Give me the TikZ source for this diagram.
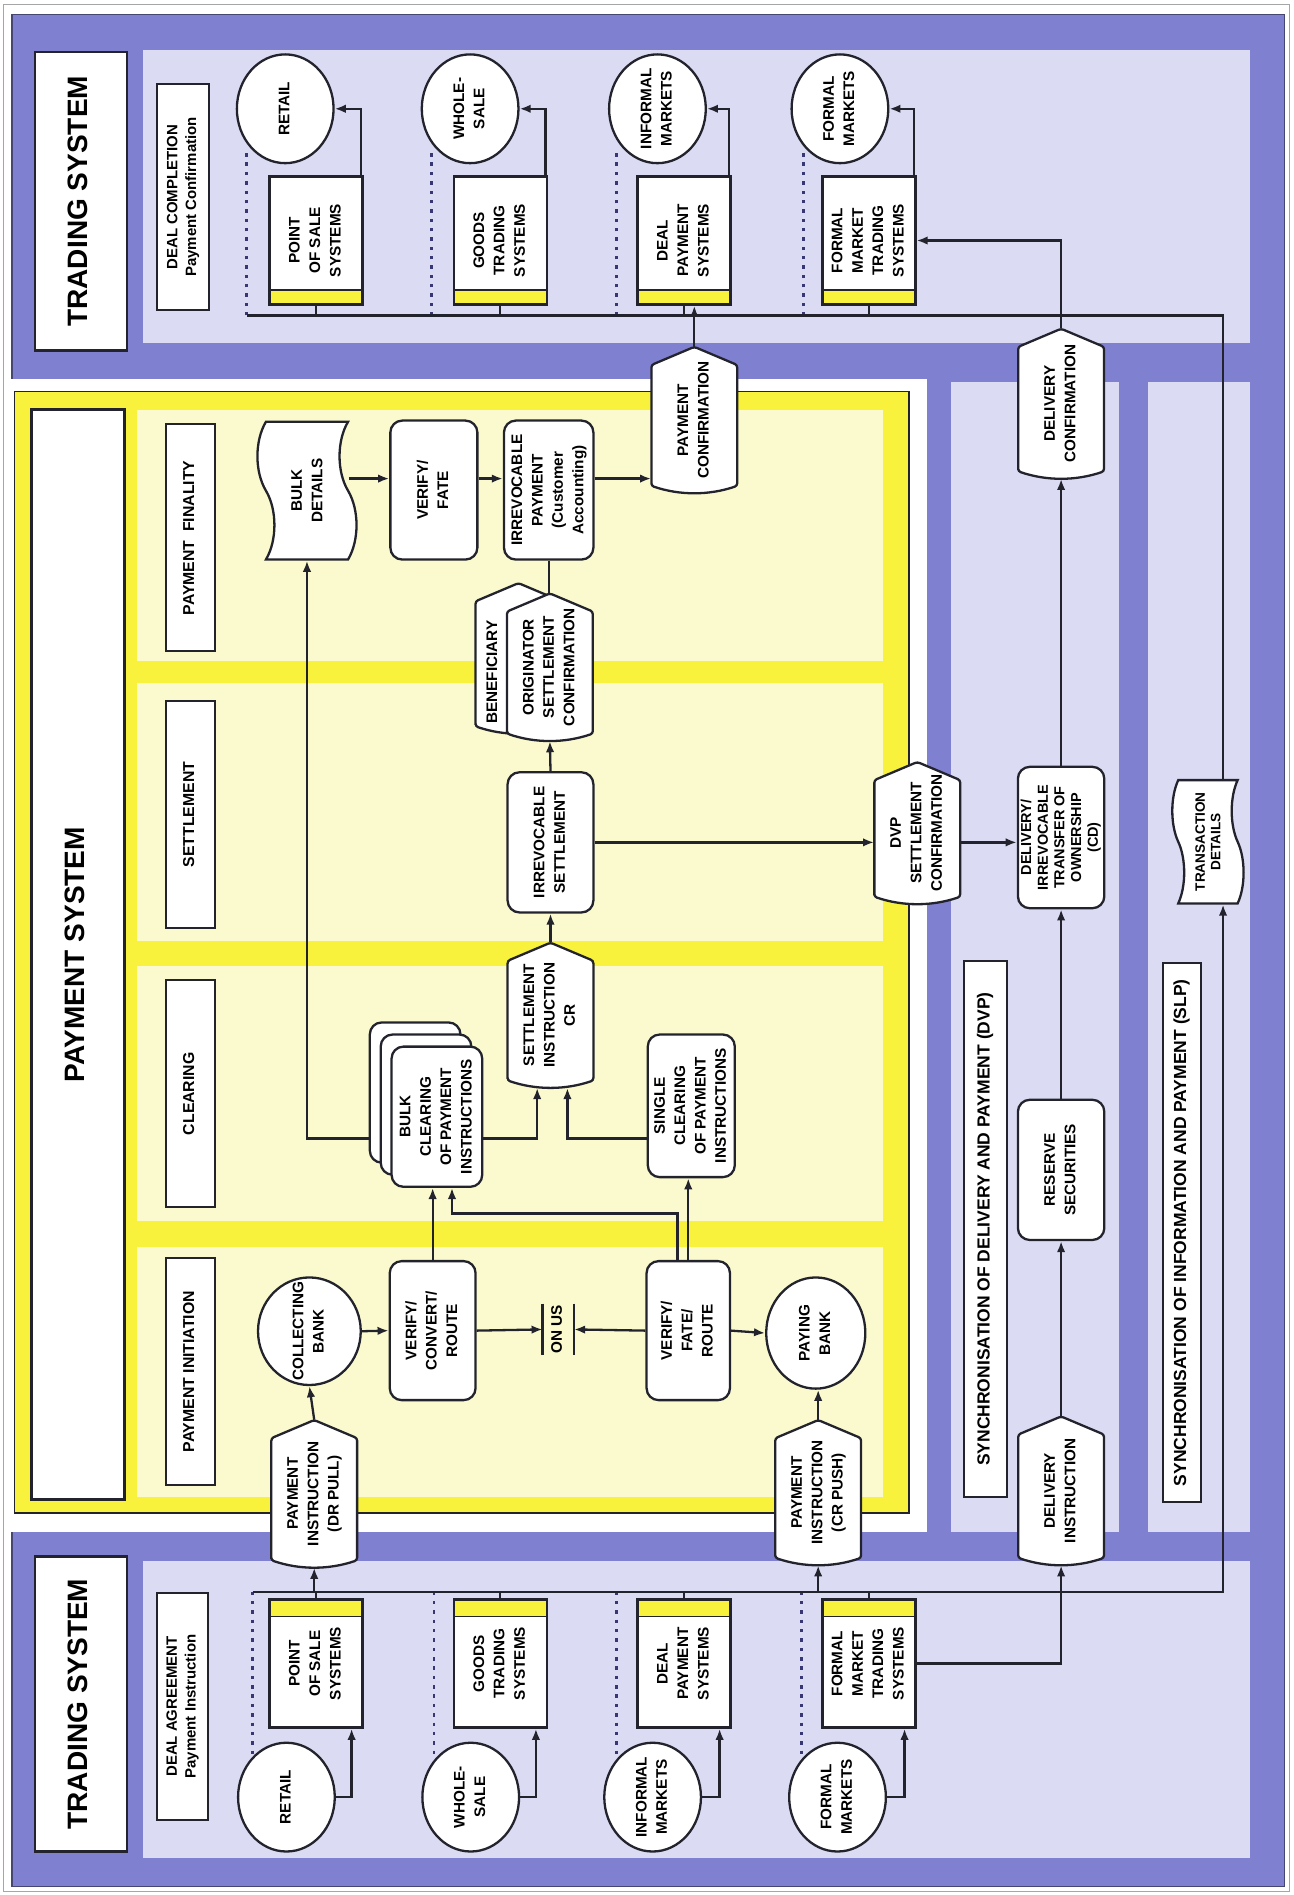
\documentclass[tikz,border=0pt]{standalone}
\usepackage{fontspec}
\setmainfont{Liberation Sans}
\usepackage{graphicx}
\usetikzlibrary{arrows.meta, positioning, shapes.geometric, shapes.symbols}

\definecolor{ink}{RGB}{35,35,45}
\definecolor{pdark}{RGB}{128,128,208}
\definecolor{plight}{RGB}{219,219,243}
\definecolor{ybright}{RGB}{248,242,60}
\definecolor{ylight}{RGB}{250,250,206}
\definecolor{dotblue}{RGB}{55,55,115}

\newcommand{\dpx}{0.025cm}
\newcommand{\vt}[1]{\rotatebox{90}{\begin{tabular}{@{}c@{}}#1\end{tabular}}}
% tag shape: pointed top, curved bottom
\newcommand{\tagnode}[5]{%
  \filldraw[tagline] ({#2-35.5},{#4-6}) -- ({#2-35.5},{#3+15}) -- (#2,#3)
    -- ({#2+35.5},{#3+15}) -- ({#2+35.5},{#4-6})
    .. controls ({#2+12},{#4+2}) and ({#2-12},{#4+2}) .. cycle;
  \node[tagbox, minimum height={(#4-#3)*\dpx}] (#1) at (#2,{(#3+#4)/2}) {\vt{#5}};
}

\tikzset{
  wh/.style 2 args={minimum width=#1*\dpx, minimum height=#2*\dpx},
  every node/.style={font=\bfseries\fontsize{9}{12}\selectfont, inner sep=0pt},
  ttl/.style={draw=ink, fill=white, line width=1.6pt, font=\bfseries\fontsize{16.5}{18}\selectfont},
  phase/.style={draw=ink, fill=white, line width=1.1pt, wh={41}{188}, font=\bfseries\fontsize{9.3}{11}\selectfont},
  proc/.style={draw=ink, fill=white, line width=1.35pt, rounded corners=7pt},
  sysbox/.style={draw=ink, fill=white, line width=1.35pt, wh={77}{106}},
  bandB/.style={path picture={
    \fill[ybright] (path picture bounding box.south west) rectangle ([yshift=12*\dpx]path picture bounding box.south east);
    \draw[ink, line width=0.7pt] ([yshift=12*\dpx]path picture bounding box.south west) -- ([yshift=12*\dpx]path picture bounding box.south east);}},
  bandT/.style={path picture={
    \fill[ybright] (path picture bounding box.north west) rectangle ([yshift=-14*\dpx]path picture bounding box.north east);
    \draw[ink, line width=0.7pt] ([yshift=-14*\dpx]path picture bounding box.north west) -- ([yshift=-14*\dpx]path picture bounding box.north east);}},
  oval/.style={ellipse, draw=ink, fill=white, line width=1.35pt, inner sep=-12pt, wh={80}{90}},
  doc/.style={tape, draw=ink, fill=white, line width=1.35pt, rotate=90, align=center},
  tagline/.style={draw=ink, fill=white, line width=1.35pt, rounded corners=1.5pt},
  tagbox/.style={minimum width=71*\dpx},
  sync/.style={draw=ink, fill=white, line width=1.1pt, font=\bfseries\fontsize{10.3}{12}\selectfont},
  flow/.style={draw=ink, line width=1.35pt, -{Latex[length=6.5pt,width=5pt]}},
  link/.style={draw=ink, line width=1.35pt},
  sep/.style={draw=dotblue, line width=1.5pt, dash pattern=on 2pt off 3.5pt},
}

\begin{document}
\begin{tikzpicture}[x=\dpx, y=-\dpx]
\useasboundingbox (0,0) rectangle (1070,1568);

% panels
\draw[black!35, line width=0.6pt] (3,4) rectangle (1067,1565);
\filldraw[fill=pdark, draw=pdark!55!black, line width=0.8pt] (10,12) rectangle (1063,1561);
\fill[plight] (118,41) rectangle (1034,284);
\fill[plight] (118,1292) rectangle (1034,1537);
\fill[plight] (787,316) rectangle (926,1268);
\fill[plight] (950,316) rectangle (1034,1268);
\fill[white] (4,314) rectangle (767,1268);
\filldraw[fill=ybright, draw=ink, line width=0.8pt] (12,324) rectangle (752,1252);
\foreach \a/\b in {339/547, 565/779, 799/1010, 1032/1239}
  \fill[ylight] (113,\a) rectangle (731,\b);

% trading system (completion)
\node[ttl, wh={76}{247}] (tsTop) at (67,166.5) {\vt{TRADING SYSTEM}};
\node[phase, wh={43}{187.5}, font=\bfseries\fontsize{8.8}{11}\selectfont] (dealTop) at (151.5,163) {\vt{DEAL COMPLETION\\Payment Confirmation}};
\node[oval] (retailT) at (236,90) {\vt{RETAIL}};
\node[oval] (wholeT) at (389,90) {\vt{WHOLE-\\SALE}};
\node[oval] (informT) at (544,90) {\vt{INFORMAL\\MARKETS}};
\node[oval] (formT) at (695,90) {\vt{FORMAL\\MARKETS}};
\node[sysbox, bandB] (posT) at (261.5,199) {\vt{POINT\\OF SALE\\SYSTEMS}};
\node[sysbox, bandB] (goodsT) at (414,199) {\vt{GOODS\\TRADING\\SYSTEMS}};
\node[sysbox, bandB] (dpsT) at (566,199) {\vt{DEAL\\PAYMENT\\SYSTEMS}};
\node[sysbox, bandB] (fmtsT) at (719,199) {\vt{FORMAL\\MARKET\\TRADING\\SYSTEMS}};

% trading system (agreement)
\node[ttl, wh={76}{244}] (tsBot) at (67,1410) {\vt{TRADING SYSTEM}};
\node[phase, wh={42}{188}, font=\bfseries\fontsize{8.8}{11}\selectfont] (dealBot) at (151,1412) {\vt{DEAL AGREEMENT\\Payment Instruction}};
\node[oval] (retailB) at (237,1487) {\vt{RETAIL}};
\node[oval] (wholeB) at (389.5,1487) {\vt{WHOLE-\\SALE}};
\node[oval] (informB) at (540,1487) {\vt{INFORMAL\\MARKETS}};
\node[oval] (formB) at (693,1487) {\vt{FORMAL\\MARKETS}};
\node[sysbox, bandT] (posB) at (261.5,1376.5) {\vt{POINT\\OF SALE\\SYSTEMS}};
\node[sysbox, bandT] (goodsB) at (414,1376.5) {\vt{GOODS\\TRADING\\SYSTEMS}};
\node[sysbox, bandT] (dpsB) at (566,1376.5) {\vt{DEAL\\PAYMENT\\SYSTEMS}};
\node[sysbox, bandT] (fmtsB) at (719,1376.5) {\vt{FORMAL\\MARKET\\TRADING\\SYSTEMS}};

% payment system
\node[ttl, wh={77}{902}] (tsPay) at (64.5,790) {\vt{PAYMENT SYSTEM}};
\node[phase] (phFin) at (157.5,445) {\vt{PAYMENT~~FINALITY}};
\node[phase] (phSet) at (157.5,674) {\vt{SETTLEMENT}};
\node[phase] (phClr) at (157.5,905) {\vt{CLEARING}};
\node[phase] (phIni) at (157.5,1135) {\vt{PAYMENT INITIATION}};

\node[doc, minimum width=114*\dpx, minimum height=82*\dpx, tape bend height=10pt] (bulkDet) at (254,406) {BULK\\DETAILS};
\node[proc, wh={72}{115}] (verFate) at (359,405.5) {\vt{VERIFY/\\FATE}};
\node[proc, wh={74}{115}] (irrPay) at (454,405.5) {\vt{IRREVOCABLE\\PAYMENT\\(Customer\\Accounting)}};
\tagnode{payConf}{574.5}{287}{408}{PAYMENT\\CONFIRMATION}

\tagnode{benef}{429}{482.5}{607}{}
\node (benefTxt) at (408,556) {\vt{BENEFICIARY}};
\tagnode{origConf}{455}{491}{613}{ORIGINATOR\\SETTLEMENT\\CONFIRMATION}
\node[proc, wh={71}{116}] (irrSet) at (455.5,697) {\vt{IRREVOCABLE\\SETTLEMENT}};
\tagnode{dvpConf}{759}{630.5}{748}{DVP\\SETTLEMENT\\CONFIRMATION}

\node[proc, wh={75}{116}] (bulkBack2) at (343.5,904) {};
\node[proc, wh={75}{116}] (bulkBack1) at (352.5,914) {};
\node[proc, wh={75}{116}] (bulkClr) at (361.5,924) {\vt{BULK\\CLEARING\\OF PAYMENT\\INSTRUCTIONS}};
\tagnode{setInstr}{455.5}{780}{900}{SETTLEMENT\\INSTRUCTION\\CR}
\node[proc, wh={72}{118}] (sglClr) at (572,915) {\vt{SINGLE\\CLEARING\\OF PAYMENT\\INSTRUCTIONS}};

\node[oval, wh={85}{89}] (colBank) at (256,1101.5) {\vt{COLLECTING\\BANK}};
\node[proc, wh={71}{115}] (verConv) at (358,1101) {\vt{VERIFY/\\CONVERT/\\ROUTE}};
\node[wh={25.5}{42}, font=\bfseries\fontsize{9}{10}\selectfont] (onUs) at (462,1100) {\vt{ON US}};
\node[proc, wh={69}{115}] (verFR) at (569.5,1101) {\vt{VERIFY/\\FATE/\\ROUTE}};
\node[oval, wh={82}{92}] (payBank) at (675,1103) {\vt{PAYING\\BANK}};
\tagnode{drPull}{260}{1175}{1297}{PAYMENT\\INSTRUCTION\\(DR PULL)}
\tagnode{crPush}{677}{1175}{1295}{PAYMENT\\INSTRUCTION\\(CR PUSH)}

% synchronisation strips
\tagnode{delConf}{878}{272}{396}{DELIVERY\\CONFIRMATION}
\node[proc, wh={71.5}{117}, font=\bfseries\fontsize{8.5}{9.8}\selectfont] (delIrr) at (878,693) {\vt{DELIVERY/\\IRREVOCABLE\\TRANSFER OF\\OWNERSHIP\\(CD)}};
\node[proc, wh={71.5}{116}] (resSec) at (878,968) {\vt{RESERVE\\SECURITIES}};
\tagnode{delInstr}{878}{1172}{1295}{DELIVERY\\INSTRUCTION}
\node[sync, wh={35}{444}] (dvpLbl) at (815.5,1017) {\vt{SYNCHRONISATION OF DELIVERY AND PAYMENT (DVP)}};
\node[sync, wh={31.5}{446}] (slpLbl) at (978,1020) {\vt{SYNCHRONISATION OF INFORMATION AND PAYMENT (SLP)}};
\node[doc, minimum width=102*\dpx, minimum height=59*\dpx, tape bend height=7pt, font=\bfseries\fontsize{8}{9}\selectfont] (trDet) at (999.5,696.5) {TRANSACTION\\DETAILS};

% bus lines
\coordinate (busTL) at (204,261);
\coordinate (busTR) at (1012,261);
\coordinate (busBL) at (209,1317);
\coordinate (busBR) at (1012,1317);
\coordinate (finRow) at (0,396);
\coordinate (clrRow) at (0,942);
\coordinate (clrJog) at (374,1004);

\foreach \x in {204, 357, 510, 665} \draw[sep] (\x,261) -- (\x,125);
\foreach \x in {209, 359, 510, 663} \draw[sep] (\x,1317) -- (\x,1451);

\foreach \s/\e in {posT/retailT, goodsT/wholeT, dpsT/informT, fmtsT/formT}
  \draw[flow] ([xshift=-2*\dpx]\s.north east) |- (\e.east);
\foreach \s in {posT, goodsT, dpsT, fmtsT}
  \draw[link] (\s.south) -- (\s.south |- busTL);
\draw[link] (busTL) -- (busTR) -- (busTR |- trDet.east);

\foreach \s/\e in {posB/retailB, goodsB/wholeB, dpsB/informB, fmtsB/formB}
  \draw[flow] (\e.east) -| ([xshift=-10*\dpx]\s.south east);
\foreach \s in {posB, goodsB, dpsB, fmtsB}
  \draw[link] (\s.north) -- (\s.north |- busBL);
\draw[flow] (busBL) -- (busBR) -- (busBR |- trDet.west);
\draw[flow] (drPull.south |- busBL) -- (drPull.south);
\draw[flow] (crPush.south |- busBL) -- (crPush.south);

% delivery side
\draw[flow] (fmtsB.east) -| (delInstr.south);
\draw[flow] (delInstr.north) -- (resSec.south);
\draw[flow] (resSec.north) -- (delIrr.south);
\draw[flow] (delIrr.north) -- (delConf.south);
\draw[flow] (delConf.north) |- (fmtsT.east);

% payment side
\draw[flow] (drPull.north) -- (colBank.south);
\draw[flow] (crPush.north) -- (crPush.north |- payBank.south);
\draw[flow] (colBank.east) -- (verConv.west);
\draw[flow] (verConv.east) -- (onUs.west);
\draw[flow] (verFR.west) -- (onUs.east);
\draw[flow] (verFR.east) -- (payBank.west);
\draw[link] (onUs.north west) -- (onUs.south west) (onUs.north east) -- (onUs.south east);
\draw[flow] (verConv.north) -- (verConv.north |- bulkClr.south);
\draw[flow] ([xshift=-9*\dpx]verFR.north) |- (clrJog) -- (clrJog |- bulkClr.south);
\draw[flow] (verFR.north) -- (verFR.north |- sglClr.south);
\draw[flow] (bulkBack2.west |- clrRow) -| (bulkDet.west);
\draw[flow] (bulkClr.east |- clrRow) -| ([xshift=-11*\dpx]setInstr.south);
\draw[flow] (sglClr.west |- clrRow) -| ([xshift=14*\dpx]setInstr.south);
\draw[flow] (setInstr.north) -- (irrSet.south);
\draw[flow] (irrSet.north) -- (origConf.south);
\draw[link] (irrPay.south) -- (irrPay.south |- origConf.north);
\draw[flow] (irrSet.east) -- (irrSet.east -| dvpConf.west);
\draw[flow] (irrSet.east -| dvpConf.east) -- (irrSet.east -| delIrr.west);
\draw[flow] (bulkDet.south |- finRow) -- (verFate.west |- finRow);
\draw[flow] (verFate.east |- finRow) -- (irrPay.west |- finRow);
\draw[flow] (irrPay.east |- finRow) -- (payConf.west |- finRow);
\draw[flow] (payConf.north) -- (payConf.north |- dpsT.south);
\end{tikzpicture}
\end{document}
